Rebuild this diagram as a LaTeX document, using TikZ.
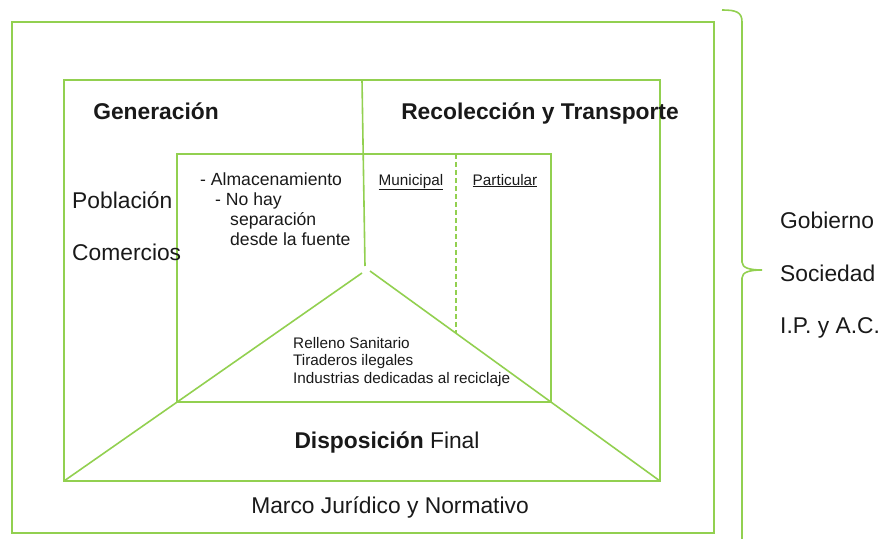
\documentclass[tikz,border=0pt]{standalone}
\usepackage{fontspec}
\setmainfont{Liberation Sans}
\definecolor{lgreen}{RGB}{146,208,80}
\definecolor{txt}{RGB}{25,25,25}
\begin{document}
\begin{tikzpicture}[x=1pt,y=-1pt,
  gline/.style={draw=lgreen,line width=1.6pt},
  lbl/.style={inner sep=0pt,text=txt,anchor=base west},
  clbl/.style={inner sep=0pt,text=txt,anchor=base},
  big/.style={font=\fontsize{22.8}{26}\selectfont},
  bigb/.style={font=\fontsize{22.8}{26}\selectfont\bfseries},
  mid/.style={font=\fontsize{17.6}{20}\selectfont},
  small/.style={font=\fontsize{15.3}{18}\selectfont},
  tiny/.style={font=\fontsize{15.3}{18}\selectfont}]
\useasboundingbox (0,0) rectangle (883,538);
% boxes
\coordinate (o1) at (12,22); \coordinate (o2) at (714,533);
\coordinate (m1) at (64,80); \coordinate (m2) at (660,481);
\coordinate (i1) at (177,154); \coordinate (i2) at (551,402);
\draw[gline] (o1) rectangle (o2);
\draw[gline] (m1) rectangle (m2);
\draw[gline] (i1) rectangle (i2);
% divider
\coordinate (vt) at (362,80); \coordinate (vb) at (365,266);
\draw[gline] (vt) -- (vb);
% dashed
\coordinate (dt) at (456,154); \coordinate (db) at (456,333);
\draw[gline,line width=1.3pt,dash pattern=on 5pt off 3pt] (dt) -- (db);
% triangle lines
\coordinate (al) at (362,273); \coordinate (ar) at (370,271);
\draw[gline] (64,481) -- (al);
\draw[gline] (ar) -- (660,481);
% brace
\coordinate (b1) at (722,10); \coordinate (tip) at (762,270);
\draw[gline] (b1) .. controls (736,10) and (742,12) .. (742,22)
  -- (742,262) .. controls (742,268) and (750,270) .. (tip)
  .. controls (750,270) and (742,272) .. (742,278) -- (742,545);
% texts
\node[clbl,bigb] (gen) at (156,119) {Generación};
\node[clbl,bigb] (rec) at (540,119) {Recolección y Transporte};
\node[lbl,big] (pob) at (72,208) {Población};
\node[lbl,big] (com) at (72,260) {Comercios};
\node[lbl,mid] (alm) at (200,185) {- Almacenamiento};
\node[lbl,mid] (noh) at (215,205) {- No hay};
\node[lbl,mid] (sep) at (230,225) {separación};
\node[lbl,mid] (des) at (230,245) {desde la fuente};
\node[clbl,tiny] (mun) at (411,185) {\underline{Municipal}};
\node[clbl,tiny] (par) at (505,185) {\underline{Particular}};
\node[lbl,small] (rel) at (293,348) {Relleno Sanitario};
\node[lbl,small] (tir) at (293,365) {Tiraderos ilegales};
\node[lbl,small] (ind) at (293,383) {Industrias dedicadas al reciclaje};
\node[clbl,big] (dis) at (387,448) {\textbf{Disposición} Final};
\node[clbl,big] (mar) at (390,513) {Marco Jurídico y Normativo};
\node[lbl,big] (gob) at (780,228) {Gobierno};
\node[lbl,big] (soc) at (780,281) {Sociedad};
\node[lbl,big] (ipa) at (780,333) {I.P. y A.C.};
\end{tikzpicture}
\end{document}
